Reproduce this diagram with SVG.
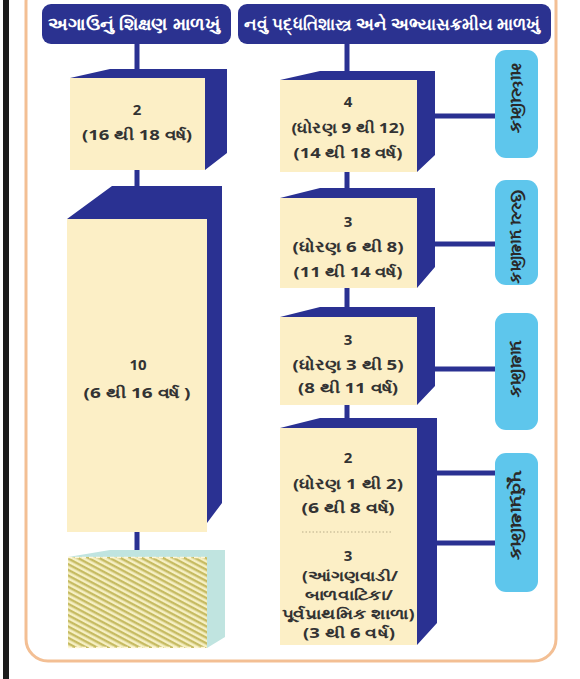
<svg xmlns="http://www.w3.org/2000/svg" width="580" height="679" viewBox="0 0 580 679">
<defs>
<style>
.hdr{fill:#2b3290}
.hdrt{fill:#ffffff;font-family:"Noto Sans","Liberation Sans",sans-serif;font-weight:bold;font-size:17px;text-anchor:middle}
.navy{fill:#2a3192}
.front{fill:#fcefc6}
.t{fill:#333333;font-family:"Noto Sans","Liberation Sans",sans-serif;font-weight:bold;font-size:15px;text-anchor:middle}
.s{font-size:13.5px}
.pill{fill:#5ec6ec}
.pt{fill:#2a2a2a;font-family:"Noto Sans","Liberation Sans",sans-serif;font-weight:bold;font-size:16px;text-anchor:middle}
.conn{stroke:#2a3192;stroke-width:5;fill:none}
</style>
<pattern id="hatch" width="5" height="5" patternUnits="userSpaceOnUse" patternTransform="rotate(28)">
<rect width="5" height="5" fill="#f6f0c4"/>
<rect width="5" height="2.4" fill="#c6bb62"/>
</pattern>
</defs>
<rect width="580" height="679" fill="#ffffff"/>
<rect x="3" y="0" width="6" height="679" fill="#1c1c1c"/>
<rect x="26" y="-20" width="530" height="681" rx="22" fill="none" stroke="#f3bf94" stroke-width="3"/>

<g id="connectors">
<line class="conn" x1="137" y1="44" x2="137" y2="69"/>
<line class="conn" x1="137" y1="170" x2="137" y2="186"/>
<line class="conn" x1="137" y1="532" x2="137" y2="550"/>
<line class="conn" x1="347" y1="44" x2="347" y2="71"/>
<line class="conn" x1="347" y1="172" x2="347" y2="188"/>
<line class="conn" x1="347" y1="288" x2="347" y2="307"/>
<line class="conn" x1="347" y1="405" x2="347" y2="418"/>
<line class="conn" x1="435" y1="116" x2="496" y2="116"/>
<line class="conn" x1="435" y1="244" x2="496" y2="244"/>
<line class="conn" x1="435" y1="369" x2="496" y2="369"/>
<line class="conn" x1="437" y1="473" x2="496" y2="473"/>
<line class="conn" x1="437" y1="543" x2="496" y2="543"/>
</g>

<g id="header-old">
<rect class="hdr" x="42" y="4" width="189" height="40" rx="9"/>
<text class="hdrt" x="134" y="30" textLength="172" lengthAdjust="spacingAndGlyphs">અગાઉનું શિક્ષણ માળખું</text>
</g>
<g id="header-new">
<rect class="hdr" x="238" y="4" width="313" height="40" rx="9"/>
<text class="hdrt" x="392" y="30" textLength="296" lengthAdjust="spacingAndGlyphs">નવું પદ્ધતિશાસ્ત્ર અને અભ્યાસક્રમીય માળખું</text>
</g>

<g id="old-2">
<polygon class="navy" points="70,78 110,69 227,69 227,153 205,170 205,78"/>
<rect class="front" x="70" y="78" width="135" height="92"/>
<text class="t" x="137" y="115">2</text>
<text class="t" x="137" y="140" textLength="110" lengthAdjust="spacingAndGlyphs">(16 થી 18 વર્ષ)</text>
</g>
<g id="old-10">
<polygon class="navy" points="67,219 112,186 222,186 222,503 207,523 207,219"/>
<rect class="front" x="67" y="219" width="140" height="313"/>
<text class="t" x="138" y="370">10</text>
<text class="t" x="137" y="398" textLength="107" lengthAdjust="spacingAndGlyphs">(6 થી 16 વર્ષ )</text>
</g>
<g id="old-pre">
<polygon fill="#c0e4e0" points="68,557 110,550 225,550 225,637 207,648 207,557"/>
<rect x="68" y="557" width="139" height="91" fill="url(#hatch)"/>
<line x1="68" y1="557.5" x2="207" y2="557.5" stroke="#fff6d8" stroke-width="1.5" stroke-dasharray="4 3"/>
<line x1="68" y1="647.5" x2="207" y2="647.5" stroke="#fff6d8" stroke-width="1.5" stroke-dasharray="4 3"/>
</g>

<g id="new-4">
<polygon class="navy" points="280,80 320,71 435,71 435,155 417,172 417,80"/>
<rect class="front" x="280" y="80" width="137" height="92"/>
<text class="t" x="348" y="107">4</text>
<text class="t" x="348" y="133" textLength="113" lengthAdjust="spacingAndGlyphs">(ધોરણ 9 થી 12)</text>
<text class="t" x="348" y="158" textLength="109" lengthAdjust="spacingAndGlyphs">(14 થી 18 વર્ષ)</text>
</g>
<g id="new-3a">
<polygon class="navy" points="280,198 320,188 435,188 435,267 417,288 417,198"/>
<rect class="front" x="280" y="198" width="137" height="90"/>
<text class="t" x="348" y="227">3</text>
<text class="t" x="348" y="252" textLength="111" lengthAdjust="spacingAndGlyphs">(ધોરણ 6 થી 8)</text>
<text class="t" x="348" y="277" textLength="109" lengthAdjust="spacingAndGlyphs">(11 થી 14 વર્ષ)</text>
</g>
<g id="new-3b">
<polygon class="navy" points="280,317 320,307 435,307 435,386 417,405 417,317"/>
<rect class="front" x="280" y="317" width="137" height="88"/>
<text class="t" x="348" y="345">3</text>
<text class="t" x="348" y="370" textLength="111" lengthAdjust="spacingAndGlyphs">(ધોરણ 3 થી 5)</text>
<text class="t" x="348" y="393" textLength="100" lengthAdjust="spacingAndGlyphs">(8 થી 11 વર્ષ)</text>
</g>
<g id="new-5">
<polygon class="navy" points="280,428 320,418 437,418 437,623 417,645 417,428"/>
<rect class="front" x="280" y="428" width="137" height="217"/>
<text class="t" x="348" y="463">2</text>
<text class="t" x="348" y="489" textLength="110" lengthAdjust="spacingAndGlyphs">(ધોરણ 1 થી 2)</text>
<text class="t" x="348" y="513" textLength="93" lengthAdjust="spacingAndGlyphs">(6 થી 8 વર્ષ)</text>
<line x1="302" y1="532" x2="393" y2="532" stroke="#b9ad8a" stroke-width="1" stroke-dasharray="1.5 2"/>
<text class="t" x="348" y="561">3</text>
<text class="t s" x="350" y="581" textLength="96" lengthAdjust="spacingAndGlyphs">(આંગણવાડી/</text>
<text class="t s" x="349" y="599.5" textLength="88" lengthAdjust="spacingAndGlyphs">બાળવાટિકા/</text>
<text class="t s" x="348" y="618.5" textLength="133" lengthAdjust="spacingAndGlyphs">પૂર્વપ્રાથમિક શાળા)</text>
<text class="t s" x="349" y="637.5" textLength="92" lengthAdjust="spacingAndGlyphs">(3 થી 6 વર્ષ)</text>
</g>

<g id="stage-secondary">
<rect class="pill" x="495" y="50" width="43" height="108" rx="11"/>
<text class="pt" transform="translate(516.5,98) rotate(90)" y="5.5" textLength="70" lengthAdjust="spacingAndGlyphs">માધ્યમિક</text>
</g>
<g id="stage-middle">
<rect class="pill" x="495" y="180" width="43" height="105" rx="11"/>
<text class="pt" transform="translate(516.5,236.5) rotate(90)" y="5.5" textLength="93" lengthAdjust="spacingAndGlyphs">ઉચ્ચ પ્રાથમિક</text>
</g>
<g id="stage-preparatory">
<rect class="pill" x="495" y="313" width="43" height="117" rx="11"/>
<text class="pt" transform="translate(516.5,368.5) rotate(90)" y="5.5" textLength="57" lengthAdjust="spacingAndGlyphs">પ્રાથમિક</text>
</g>
<g id="stage-foundational">
<rect class="pill" x="495" y="453" width="43" height="139" rx="11"/>
<text class="pt" transform="translate(516.5,515) rotate(90)" y="5.5" textLength="90" lengthAdjust="spacingAndGlyphs">પૂર્વપ્રાથમિક</text>
</g>
</svg>
